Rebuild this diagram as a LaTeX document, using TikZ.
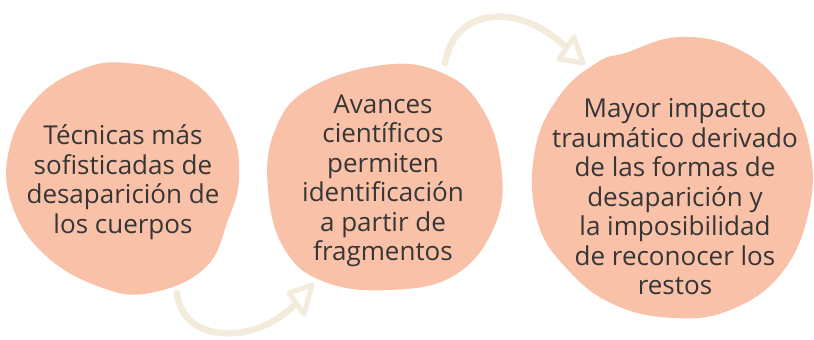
\documentclass[tikz,border=0pt]{standalone}
\usepackage{fontspec}
\setmainfont{Open Sans}
\definecolor{blobfill}{HTML}{F9C1A7}
\definecolor{arrowcol}{HTML}{F3EBDC}
\definecolor{textcol}{HTML}{363636}
\tikzset{
  blob/.style={fill=blobfill, draw=none},
  blobtext/.style={align=center, text=textcol, inner sep=0pt,
    font=\fontsize{26}{29.5}\selectfont},
  flowline/.style={draw=arrowcol, line width=6.5pt, line cap=round},
  flowhead/.style={draw=arrowcol, fill=white, line width=5pt, line join=round}
}
\begin{document}
\begin{tikzpicture}[x=1pt, y=-1pt]
\useasboundingbox (0,0) rectangle (814,340);
% blobs
\draw[blob] plot[smooth cycle, tension=0.7] coordinates {
  (127,63) (190,80) (230,128) (239,177) (228,220) (205,268) (150,293)
  (100,287) (45,255) (12,205) (9,150) (35,100) (80,70)};
\draw[blob] plot[smooth cycle, tension=0.7] coordinates {
  (383,65) (440,72) (480,105) (501,165) (495,225) (455,275) (390,290)
  (325,282) (285,250) (268,190) (275,130) (310,88)};
\draw[blob] plot[smooth cycle, tension=0.7] coordinates {
  (680,37) (740,50) (785,90) (810,150) (808,215) (780,275) (730,310)
  (675,318) (615,305) (568,270) (537,220) (535,150) (560,95) (598,62)
  (625,53)};
% texts
\node[blobtext] (t1) at (123,182) {Técnicas más\\sofisticadas de\\desaparición de\\los cuerpos};
\node[blobtext] (t2) at (383,181) {Avances\\científicos\\permiten\\identificación\\a partir de\\fragmentos};
\node[blobtext] (t3) at (675,197) {Mayor impacto\\traumático derivado\\de las formas de\\desaparición y\\la imposibilidad\\de reconocer los\\restos};
% arrows
\coordinate (a1s) at (177,293);
\coordinate (a1e) at (296,303);
\coordinate (h1a) at (289,293);
\coordinate (h1b) at (312,285);
\coordinate (h1c) at (304,314);
\coordinate (a2s) at (445,63);
\coordinate (a2e) at (566.5,48);
\coordinate (h2a) at (574,37);
\coordinate (h2b) at (583,63);
\coordinate (h2c) at (559,59);
\draw[flowline] (a1s) .. controls (182,345) and (258,345) .. (a1e);
\draw[flowhead] (h1a) -- (h1b) -- (h1c) -- cycle;
\draw[flowline] (a2s) .. controls (455,5) and (522,3) .. (a2e);
\draw[flowhead] (h2a) -- (h2b) -- (h2c) -- cycle;
\end{tikzpicture}
\end{document}
